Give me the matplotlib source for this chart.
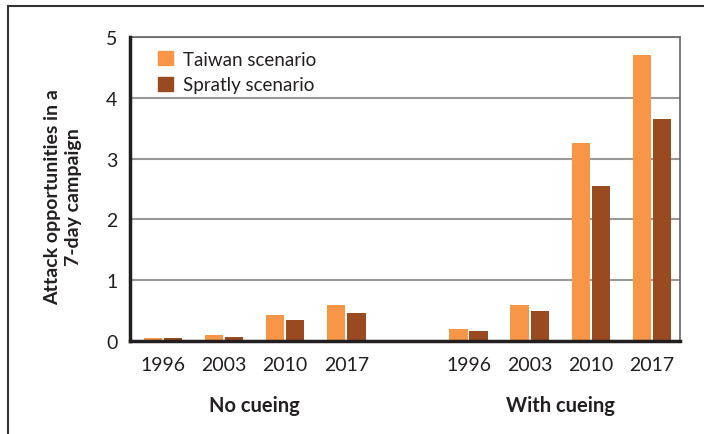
import numpy as np
import matplotlib
matplotlib.use("Agg")
import matplotlib.pyplot as plt
from matplotlib.patches import Rectangle, Patch

plt.rcParams['font.family'] = ['Lato', 'DejaVu Sans']

# data
years = ['1996', '2003', '2010', '2017']
groups = ['No cueing', 'With cueing']
taiwan_no = [0.05, 0.10, 0.43, 0.60]
spratly_no = [0.05, 0.07, 0.35, 0.46]
taiwan_cue = [0.20, 0.60, 3.25, 4.70]
spratly_cue = [0.17, 0.50, 2.55, 3.65]

orange = '#F79646'
brown = '#994A21'
ink = '#231f20'

fig = plt.figure(figsize=(7.04, 4.35), dpi=100)
ax = fig.add_axes([130/704, 93/435, 550/704, 304/435])

# outer frame of the exhibit
fig.patches.append(Rectangle((8/704, -0.05), 1.0, 1 - 7/435 + 0.05,
                             transform=fig.transFigure, fill=False,
                             edgecolor='#333333', lw=1.5))

pos_no = np.arange(4)
pos_cue = np.arange(4) + 5
w = 0.3
off = 0.165

ax.bar(pos_no - off, taiwan_no, w, color=orange, zorder=3)
ax.bar(pos_no + off, spratly_no, w, color=brown, zorder=3)
ax.bar(pos_cue - off, taiwan_cue, w, color=orange, zorder=3)
ax.bar(pos_cue + off, spratly_cue, w, color=brown, zorder=3)

ax.set_xlim(-0.54, 8.46)
ax.set_ylim(0, 5)
ax.set_yticks(range(6))
ax.set_xticks(np.concatenate([pos_no, pos_cue]))
ax.set_xticklabels(years + years)
ax.tick_params(axis='both', length=0, labelsize=14, colors=ink)
ax.tick_params(axis='x', pad=11)
ax.tick_params(axis='y', pad=9)

ax.yaxis.grid(True, color='#999999', lw=1.5, zorder=0)
ax.set_axisbelow(True)

for s in ['left', 'bottom']:
    ax.spines[s].set_color(ink)
    ax.spines[s].set_linewidth(2.5)
    ax.spines[s].set_zorder(4)
for s in ['top', 'right']:
    ax.spines[s].set_color('#666666')
    ax.spines[s].set_linewidth(1.2)

# group labels under the years
for name, p in zip(groups, [pos_no.mean(), pos_cue.mean()]):
    ax.text(p, -0.21, name, transform=ax.get_xaxis_transform(),
            ha='center', va='center', fontsize=14.5, fontweight='bold',
            color=ink)

ax.set_ylabel('Attack opportunities in a\n7-day campaign', fontsize=14,
              fontweight='bold', color=ink, linespacing=1.3)
ax.yaxis.set_label_coords(-0.087, 0.477)

handles = [Patch(color=orange, label='Taiwan scenario'),
           Patch(color=brown, label='Spratly scenario')]
ax.legend(handles=handles, loc='upper left', bbox_to_anchor=(0.02, 1.01),
          frameon=False, fontsize=13.5, handlelength=0.8, handleheight=0.8,
          handletextpad=0.55, labelspacing=0.45, borderpad=0.4,
          labelcolor=ink)

fig.savefig('out.png', dpi=100)
